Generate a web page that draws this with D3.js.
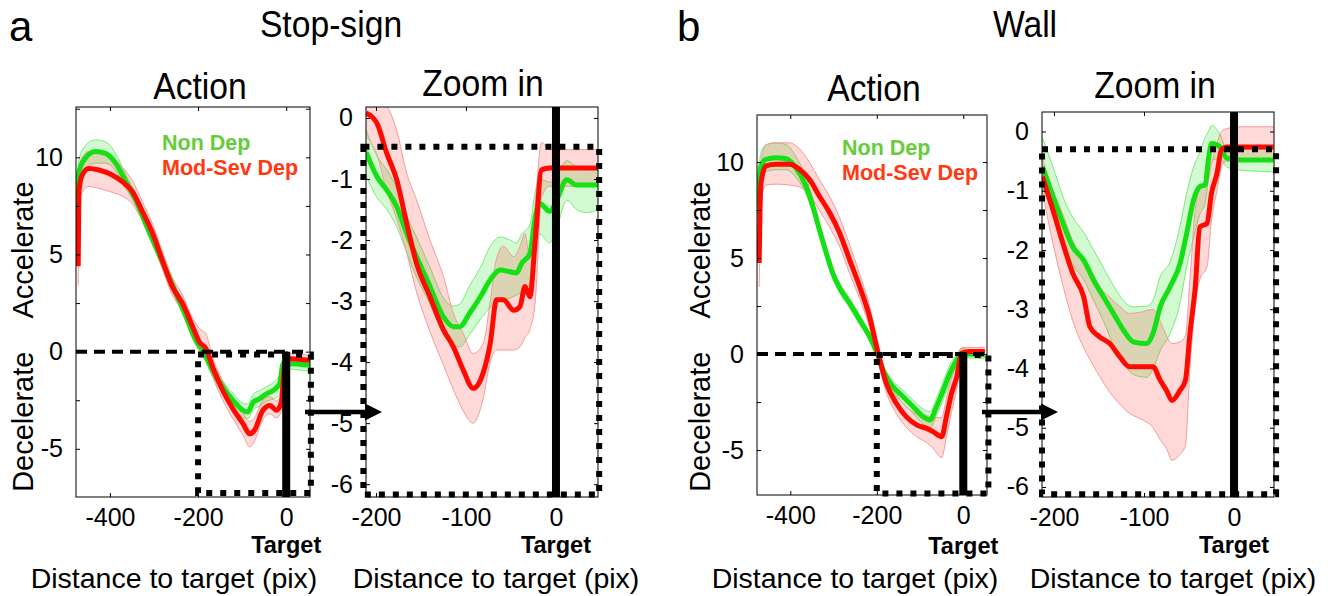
<!DOCTYPE html>
<html><head><meta charset="utf-8">
<script src="https://cdn.jsdelivr.net/npm/d3@7"></script>
<style>
body{margin:0;background:#fff;}
svg text{font-family:"Liberation Sans", Arial, sans-serif;fill:#000;}
</style></head>
<body><svg id="c" width="1330" height="596"></svg>
<script>
// ---------- DATA: rows are [distance, mean, lower band, upper band] ----------
const stopActionNonDep = [
 [-474,6.4,5.8,7.0],[-471,9.2,8.6,9.8],[-456,9.95,9.3,10.6],[-433,10.3,9.7,10.9],[-410,10.2,9.7,10.8],
 [-387,9.7,9.3,10.2],[-364,8.75,8.4,9.1],[-341,7.8,7.5,8.1],[-319,6.6,6.3,6.9],[-296,5.4,5.1,5.7],
 [-273,4.2,3.9,4.5],[-250,3.0,2.7,3.3],[-227,1.8,1.5,2.1],[-205,0.58,0.3,0.9],[-189,0.07,-0.25,0.4],
 [-167,-0.96,-1.3,-0.65],[-144,-1.82,-2.15,-1.5],[-121,-2.5,-2.85,-2.15],[-98,-3.02,-3.4,-2.65],
 [-87,-3.1,-3.45,-2.7],[-75,-2.6,-3.0,-2.2],[-60,-2.42,-2.8,-2.0],[-45,-2.17,-2.55,-1.8],
 [-30,-2.0,-2.45,-1.6],[-15,-1.65,-2.2,-1.2],[-7,-0.62,-1.0,-0.3],[8,-0.62,-0.9,-0.35],
 [30,-0.65,-0.95,-0.4],[54,-0.7,-1.0,-0.45]
];
const stopActionModSev = [
 [-472,4.4,3.4,5.4],[-470,8.3,7.5,9.2],[-463,9.09,8.2,10.0],[-448,9.43,8.5,10.3],[-425,9.35,8.4,10.3],
 [-395,9.09,8.2,10.0],[-372,8.75,8.0,9.5],[-349,8.23,7.6,8.8],[-326,7.2,6.7,7.7],[-303,6.08,5.6,6.55],
 [-281,4.7,4.25,5.15],[-258,3.33,2.9,3.8],[-235,2.47,2.05,2.9],[-212,1.27,0.85,1.7],[-197,0.5,0.05,1.2],
 [-182,0.15,-0.35,0.9],[-167,-0.79,-1.3,-0.3],[-144,-2.0,-2.5,-1.5],[-121,-2.94,-3.45,-2.45],
 [-98,-3.71,-4.3,-3.15],[-83,-4.23,-4.9,-3.6],[-72,-4.05,-4.6,-3.4],[-53,-3.02,-3.5,-2.5],
 [-37,-2.77,-3.2,-2.3],[-22,-3.02,-3.4,-2.55],[-11,-2.6,-3.1,-2.1],[-3,-0.62,-1.0,-0.2],
 [8,-0.36,-0.65,-0.1],[54,-0.45,-0.7,-0.2]
];
const stopZoomNonDep = [
 [-211,-0.56,-0.95,-0.2],[-199,-0.96,-1.3,-0.62],[-188,-1.18,-1.5,-0.85],[-177,-1.45,-1.78,-1.15],
 [-166,-1.89,-2.2,-1.6],[-155,-2.27,-2.6,-1.95],[-140,-2.76,-3.05,-2.45],[-125,-3.26,-3.55,-2.95],
 [-114,-3.42,-3.72,-3.08],[-107,-3.42,-3.75,-3.05],[-96,-3.2,-3.55,-2.75],[-84,-2.93,-3.3,-2.45],
 [-73,-2.65,-3.1,-2.1],[-62,-2.49,-3.0,-1.95],[-51,-2.52,-2.95,-2.0],[-44,-2.54,-2.9,-2.05],
 [-38,-2.38,-2.85,-1.9],[-29,-2.22,-2.7,-1.75],[-23,-1.62,-2.1,-1.2],[-18,-1.4,-1.9,-1.0],
 [-7,-1.53,-2.05,-1.05],[1,-1.34,-1.8,-0.95],[12,-1.01,-1.35,-0.7],[23,-1.1,-1.5,-0.8],
 [34,-1.1,-1.55,-0.85],[47,-1.1,-1.5,-0.85]
];
const stopZoomModSev = [
 [-211,0.08,-0.3,0.4],[-199,-0.085,-0.6,0.35],[-188,-0.58,-1.2,0.2],[-177,-1.01,-1.65,-0.2],
 [-166,-1.72,-2.2,-0.9],[-155,-2.38,-2.85,-1.34],[-140,-2.93,-3.5,-2.0],[-125,-3.47,-4.05,-2.6],
 [-114,-3.75,-4.45,-3.2],[-103,-4.13,-4.8,-3.53],[-92,-4.43,-5.0,-3.86],[-81,-4.18,-4.6,-3.7],
 [-73,-3.69,-4.0,-3.0],[-66,-2.98,-3.8,-2.3],[-58.5,-2.98,-3.8,-2.1],[-47,-3.15,-3.8,-2.27],
 [-40,-3.09,-3.75,-2.1],[-34.4,-2.76,-3.6,-1.89],[-29,-2.93,-3.47,-2.32],[-23,-2.0,-3.0,-1.4],
 [-16,-0.85,-1.3,-0.4],[-7,-0.82,-1.12,-0.52],[47,-0.82,-1.12,-0.52]
];
const wallActionNonDep = [
 [-476,7.7,7.3,8.1],[-468,9.8,9.2,10.5],[-456,10.14,9.5,10.9],[-433,10.23,9.6,11.0],[-410,10.17,9.6,10.9],
 [-387,9.7,9.2,10.3],[-364,8.75,8.35,9.2],[-348,7.7,7.35,8.1],[-333,6.5,6.2,6.85],[-317,5.27,5.0,5.6],
 [-302,4.22,3.95,4.5],[-286,3.44,3.2,3.7],[-263,2.66,2.4,2.9],[-240,1.79,1.55,2.05],[-217,0.92,0.7,1.15],
 [-201,0.13,-0.1,0.35],[-186,-0.82,-1.1,-0.55],[-163,-1.69,-2.0,-1.4],[-139,-2.22,-2.55,-1.9],
 [-116,-2.74,-3.1,-2.4],[-93,-3.26,-3.65,-2.85],[-77,-3.43,-3.85,-3.0],[-62,-2.74,-3.2,-2.3],
 [-46,-1.87,-2.35,-1.4],[-31,-1.0,-1.45,-0.55],[-15,-0.3,-0.6,0.0],[-4,0.0,-0.25,0.3],
 [15,0.0,-0.2,0.2],[50,-0.04,-0.25,0.15]
];
const wallActionModSev = [
 [-472,4.74,3.5,5.8],[-468,8.9,8.0,9.9],[-456,9.8,8.8,10.9],[-433,9.88,8.85,11.0],[-402,9.88,8.8,11.0],
 [-379,9.62,8.7,10.7],[-356,9.1,8.3,10.0],[-333,8.23,7.5,9.1],[-309,7.36,6.6,8.2],[-286,6.31,5.6,7.1],
 [-263,4.92,4.2,5.7],[-240,3.53,2.9,4.2],[-217,1.96,1.4,2.5],[-197,0.05,-0.4,0.5],[-178,-1.52,-2.0,-1.1],
 [-155,-2.56,-3.1,-2.1],[-132,-3.26,-3.8,-2.75],[-108,-3.69,-4.3,-3.1],[-85,-3.87,-4.6,-3.2],
 [-70,-4.04,-4.9,-3.3],[-50,-4.3,-5.4,-3.3],[-39,-3.26,-4.3,-2.3],[-27,-2.04,-3.0,-1.2],
 [-15,-1.17,-1.8,-0.5],[-4,0.05,-0.3,0.35],[15,0.13,-0.05,0.35],[50,0.13,-0.05,0.35]
];
const wallZoomNonDep = [
 [-213,-0.59,-0.95,-0.1],[-201,-1.1,-1.4,-0.6],[-190,-1.55,-1.85,-1.1],[-179,-1.95,-2.25,-1.45],
 [-167,-2.17,-2.5,-1.7],[-156,-2.51,-2.85,-2.0],[-145,-2.79,-3.2,-2.3],[-134,-3.07,-3.6,-2.6],
 [-123,-3.35,-3.9,-2.85],[-112,-3.55,-4.1,-2.96],[-97,-3.58,-4.15,-2.95],[-90,-3.41,-4.0,-2.85],
 [-82,-2.96,-3.7,-2.45],[-71,-2.62,-3.41,-2.2],[-60,-2.23,-2.9,-1.6],[-52.6,-1.72,-2.28,-1.04],
 [-45,-1.16,-1.8,-0.6],[-38,-0.93,-1.4,-0.35],[-32,-0.9,-1.2,-0.1],[-28.5,-0.48,-0.8,0.0],
 [-24.8,-0.2,-0.5,0.1],[-15.6,-0.26,-0.45,-0.05],[-8,-0.45,-0.6,-0.3],[6.7,-0.48,-0.65,-0.3],
 [44,-0.48,-0.68,-0.3]
];
const wallZoomModSev = [
 [-213,-0.76,-1.0,-0.45],[-201,-1.33,-1.9,-1.0],[-190,-1.89,-2.6,-1.4],[-179,-2.4,-3.2,-1.85],
 [-167,-2.79,-3.65,-2.15],[-160,-3.3,-3.85,-2.3],[-149,-3.47,-4.14,-2.62],[-138,-3.58,-4.4,-2.8],
 [-127,-3.8,-4.6,-2.95],[-116,-3.97,-4.76,-3.07],[-104,-3.97,-4.85,-3.05],[-90,-3.97,-5.0,-3.0],
 [-82,-4.2,-5.2,-3.2],[-75,-4.37,-5.35,-3.45],[-69,-4.54,-5.55,-3.58],[-60,-4.37,-5.45,-3.55],
 [-54,-4.2,-5.3,-3.45],[-49,-3.41,-4.0,-2.5],[-43,-2.62,-2.9,-1.3],[-38,-1.61,-2.5,-0.95],
 [-30,-1.55,-2.28,-0.9],[-25,-1.04,-1.49,-0.55],[-19,-0.71,-1.0,-0.2],[-14,-0.31,-0.6,0.0],
 [-8,-0.26,-0.5,0.05],[7,-0.26,-0.5,0.08],[44,-0.26,-0.5,0.08]
];
const seriesNames = ["Non Dep", "Mod-Sev Dep"];
const xTicksAction = [-400, -200, 0];
const yTicksAction = [-7.5, -5, -2.5, 0, 2.5, 5, 7.5, 10, 12.5];
const yLabelsAction = [-5, 0, 5, 10];
const xTicksZoom = [-200, -100, 0];
const yTicksZoom = [-6, -5, -4, -3, -2, -1, 0];
const scenarioTitles = ["Stop-sign", "Wall"];
const panelLetters = ["a", "b"];
const panelTitles = ["Action", "Zoom in"];

// ---------- LAYOUT ----------
const panels = [
 {box:{l:76,r:310,t:107,b:497}, xd:[-477,54], yd:[-7.48,12.59], type:'action',
  nd:stopActionNonDep, ms:stopActionModSev, win:[-200,56,-0.15,-7.28],
  legend:{x:162,y1:150,y2:175}, title:{x:200,y:99}, xlab:{x:174}, ylab:{x:33}, target:{y:553}},
 {box:{l:366,r:598,t:107,b:497}, xd:[-211.1,46.7], yd:[-6.21,0.18], type:'zoom',
  nd:stopZoomNonDep, ms:stopZoomModSev, win:[-214,48,-0.47,-6.17],
  title:{x:483,y:96}, xlab:{x:496}, target:{y:553}},
 {box:{l:757,r:987,t:115,b:495}, xd:[-477,54.8], yd:[-7.34,12.45], type:'action',
  nd:wallActionNonDep, ms:wallActionModSev, win:[-200,58,-0.05,-7.26],
  legend:{x:842,y1:155,y2:180}, title:{x:874,y:101}, xlab:{x:855}, ylab:{x:710}, target:{y:554}},
 {box:{l:1042,r:1274,t:112,b:497}, xd:[-213.3,44.4], yd:[-6.17,0.33], type:'zoom',
  nd:wallZoomNonDep, ms:wallZoomModSev, win:[-213.3,46.7,-0.3,-6.125],
  title:{x:1155,y:98}, xlab:{x:1173}, target:{y:553}}
];

const GREEN = {line:'#14e014', fill:'#00e600', op:0.18, edge:'#7ee87e'};
const RED   = {line:'#ff0a00', fill:'#ff3c3c', op:0.2, edge:'#f59a9a'};

const svg = d3.select('#c');
const defs = svg.append('defs');

function drawPanel(p, i){
  const x = d3.scaleLinear().domain(p.xd).range([p.box.l, p.box.r]);
  const y = d3.scaleLinear().domain(p.yd).range([p.box.b, p.box.t]);
  const g = svg.append('g');
  const cid = 'clip' + i;
  defs.append('clipPath').attr('id', cid).append('rect')
    .attr('x', p.box.l).attr('y', p.box.t)
    .attr('width', p.box.r - p.box.l).attr('height', p.box.b - p.box.t);
  const plot = g.append('g').attr('clip-path', `url(#${cid})`);
  const cv = d3.curveMonotoneX;
  const area = d3.area().x(d => x(d[0])).y0(d => y(d[2])).y1(d => y(d[3])).curve(cv);
  const mkLine = k => d3.line().x(d => x(d[0])).y(d => y(d[k])).curve(cv);
  [[p.nd, GREEN], [p.ms, RED]].forEach(([data, c]) => {
    plot.append('path').attr('d', area(data)).attr('fill', c.fill).attr('fill-opacity', c.op);
    [2, 3].forEach(k => plot.append('path').attr('d', mkLine(k)(data))
      .attr('fill', 'none').attr('stroke', c.edge).attr('stroke-width', 1));
  });
  [[p.nd, GREEN], [p.ms, RED]].forEach(([data, c]) => {
    plot.append('path').attr('d', mkLine(1)(data)).attr('fill', 'none')
      .attr('stroke', c.line).attr('stroke-width', 5).attr('stroke-linejoin', 'round');
  });

  // frame
  g.append('rect').attr('x', p.box.l).attr('y', p.box.t)
    .attr('width', p.box.r - p.box.l).attr('height', p.box.b - p.box.t)
    .attr('fill', 'none').attr('stroke', '#000').attr('stroke-width', 1);

  const inDom = (v, d) => v >= d[0] && v <= d[1];
  const xt = (p.type === 'action' ? xTicksAction : xTicksZoom).filter(v => inDom(v, p.xd));
  const yt = (p.type === 'action' ? yTicksAction : yTicksZoom).filter(v => inDom(v, p.yd));
  const yl = p.type === 'action' ? yLabelsAction : yTicksZoom;

  const styleAxis = a => { a.select('.domain').remove();
    a.selectAll('text').attr('font-size', 25).attr('font-family', '"Liberation Sans", Arial, sans-serif');
    a.selectAll('line').attr('stroke', '#000'); };

  g.append('g').attr('transform', `translate(${p.box.l},0)`)
    .call(d3.axisLeft(y).tickValues(yt).tickSize(-4).tickPadding(13)
      .tickFormat(v => yl.includes(v) ? String(v) : ''))
    .call(styleAxis);
  g.append('g').attr('transform', `translate(${p.box.r},0)`)
    .call(d3.axisRight(y).tickValues(yt).tickSize(-4).tickFormat(''))
    .call(styleAxis);
  g.append('g').attr('transform', `translate(0,${p.box.b})`)
    .call(d3.axisBottom(x).tickValues(xt).tickSize(-4).tickPadding(11).tickFormat(v => String(v)))
    .call(styleAxis);
  g.append('g').attr('transform', `translate(0,${p.box.t})`)
    .call(d3.axisTop(x).tickValues(xt).tickSize(-4).tickFormat(''))
    .call(styleAxis);

  // annotations
  if (p.type === 'action') {
    g.append('line').attr('x1', x(p.xd[0])).attr('x2', x(p.xd[1]))
      .attr('y1', y(0)).attr('y2', y(0))
      .attr('stroke', '#000').attr('stroke-width', 4).attr('stroke-dasharray', '11 7');
  }
  g.append('line').attr('x1', x(0)).attr('x2', x(0))
    .attr('y1', p.type === 'action' ? y(0) : y(p.yd[1])).attr('y2', y(p.yd[0]))
    .attr('stroke', '#000').attr('stroke-width', 8);
  const w = p.win;
  g.append('rect').attr('x', x(w[0])).attr('y', y(w[2]))
    .attr('width', x(w[1]) - x(w[0])).attr('height', y(w[3]) - y(w[2]))
    .attr('fill', 'none').attr('stroke', '#000').attr('stroke-width', 6)
    .attr('stroke-dasharray', '6 8');

  // texts
  g.append('text').attr('x', x(0)).attr('y', p.target.y).attr('text-anchor', 'middle')
    .attr('font-size', 23.5).attr('font-weight', 'bold').text('Target');
  g.append('text').attr('x', p.xlab.x).attr('y', 588).attr('text-anchor', 'middle')
    .attr('font-size', 28.5).text('Distance to target (pix)');
  const tt = p.type === 'action' ? panelTitles[0] : panelTitles[1];
  g.append('text').attr('transform', `translate(${p.title.x},${p.title.y}) scale(0.91,1)`)
    .attr('text-anchor', 'middle').attr('font-size', 37).text(tt);
  if (p.type === 'action') {
    [['Accelerate', 250], ['Decelerate', 421.7]].forEach(([t, cy]) =>
      g.append('text').attr('transform', `translate(${p.ylab.x},${cy}) rotate(-90)`)
        .attr('text-anchor', 'middle').attr('font-size', 29).text(t));
    g.append('text').attr('x', p.legend.x).attr('y', p.legend.y1).attr('font-size', 21.5)
      .attr('font-weight', 'bold').style('fill', '#66cc3a').text(seriesNames[0]);
    g.append('text').attr('x', p.legend.x).attr('y', p.legend.y2).attr('font-size', 21.5)
      .attr('font-weight', 'bold').style('fill', '#ff3a12').text(seriesNames[1]);
  }
  return {x, y};
}

panels.forEach(drawPanel);

// arrows from action panel to zoom panel
[[panels[0], panels[1]], [panels[2], panels[3]]].forEach(([a, z]) => {
  const x1 = a.box.r - 5, x2 = z.box.l + 16, yy = 412;
  svg.append('line').attr('x1', x1).attr('x2', x2 - 14).attr('y1', yy).attr('y2', yy)
    .attr('stroke', '#000').attr('stroke-width', 4.5);
  svg.append('path').attr('d', `M${x2},${yy} L${x2 - 17},${yy - 8.5} L${x2 - 17},${yy + 8.5} Z`).attr('fill', '#000');
});

// scenario titles & letters
svg.append('text').attr('x', 9).attr('y', 41).attr('font-size', 42).text(panelLetters[0]);
svg.append('text').attr('x', 677).attr('y', 41).attr('font-size', 42).text(panelLetters[1]);
svg.append('text').attr('transform', 'translate(331,37) scale(0.91,1)').attr('text-anchor', 'middle')
  .attr('font-size', 37).text(scenarioTitles[0]);
svg.append('text').attr('transform', 'translate(1025,37) scale(0.91,1)').attr('text-anchor', 'middle')
  .attr('font-size', 37).text(scenarioTitles[1]);
</script>
</body></html>
